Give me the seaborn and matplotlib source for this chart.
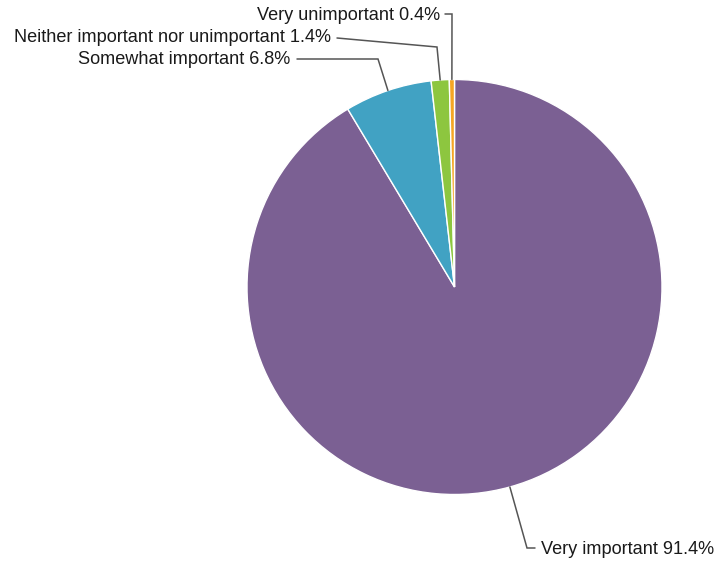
import numpy as np
import matplotlib
matplotlib.use('Agg')
import matplotlib.pyplot as plt
import seaborn as sns

# Survey answers, clockwise from 12 o'clock
categories = ['Very important', 'Somewhat important',
              'Neither important nor unimportant', 'Very unimportant']
shares = [91.4, 6.8, 1.4, 0.4]
colors = ['#7B6093', '#41A2C3', '#8DC63F', '#F5A623']

# Elbow and text positions of the leader lines (pixel coords, y down)
elbows = [(527, 548), (378, 59), (437, 47), (452, 14)]
line_ends = [(535, 548), (297, 59), (337, 38), (445, 14)]
text_pos = [(541, 549), (290, 60), (331, 38), (440, 15)]
text_ha = ['left', 'right', 'right', 'right']

sns.set_theme(style='white')
plt.rcParams['font.family'] = ['Liberation Sans', 'DejaVu Sans']

W, H = 718, 566
fig = plt.figure(figsize=(W / 100, H / 100), dpi=100)
ax = fig.add_axes([0, 0, 1, 1])

cx, cy, r = 454.5, H - 287, 207.5
wedges, _ = ax.pie(shares, colors=colors, startangle=90, counterclock=False,
                   center=(cx, cy), radius=r, frame=True,
                   wedgeprops=dict(edgecolor='white', linewidth=1))
ax.set_xlim(0, W)
ax.set_ylim(0, H)
ax.set_aspect('equal')
ax.axis('off')

for w, cat, val, el, le, tp, ha in zip(wedges, categories, shares,
                                         elbows, line_ends, text_pos, text_ha):
    mid = np.deg2rad((w.theta1 + w.theta2) / 2)
    ax0 = cx + r * np.cos(mid)
    ay0 = cy + r * np.sin(mid)
    xs = [ax0, el[0], le[0]]
    ys = [ay0, H - el[1], H - le[1]]
    ax.plot(xs, ys, color='#555555', lw=1.1, solid_joinstyle='miter')
    ax.text(tp[0], H - tp[1], f'{cat} {val}%', ha=ha, va='center',
            fontsize=13.1, color='#1a1a1a')

fig.savefig('out.png', dpi=100)
